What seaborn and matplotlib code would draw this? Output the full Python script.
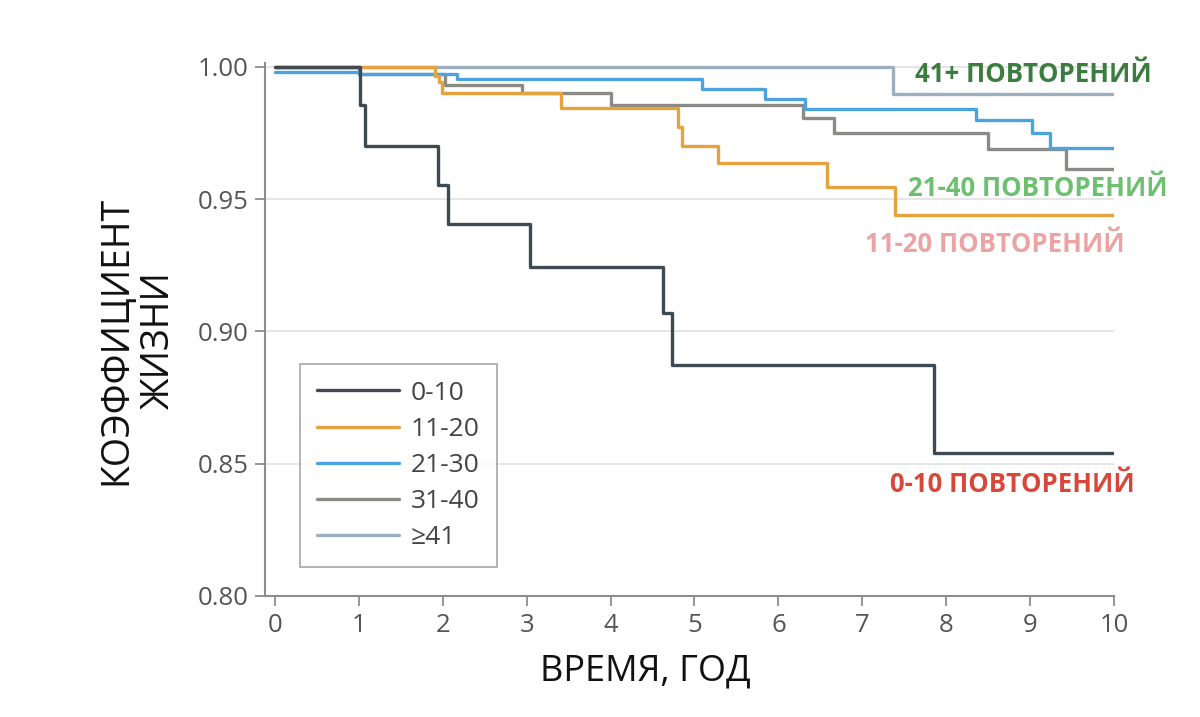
import pandas as pd
import matplotlib
matplotlib.use("Agg")
import matplotlib.pyplot as plt
import seaborn as sns

# Kaplan-Meier style step curves
groups = ["0-10", "11-20", "21-30", "31-40", "≥41"]

t_0_10 = [0, 1.01, 1.07, 1.94, 2.06, 3.04, 4.62, 4.73, 7.85, 10]
s_0_10 = [1.0, 0.9856, 0.970, 0.9554, 0.9406, 0.9245, 0.907, 0.8873, 0.854, 0.854]

t_11_20 = [0, 1.91, 1.96, 1.99, 3.41, 4.80, 4.85, 5.28, 6.58, 7.39, 10]
s_11_20 = [1.0, 0.9967, 0.9944, 0.990, 0.9844, 0.9774, 0.970, 0.9637, 0.9547, 0.944, 0.944]

t_21_30 = [0, 1.0, 2.17, 5.09, 5.84, 6.32, 8.36, 9.02, 9.24, 10]
s_21_30 = [0.998, 0.9972, 0.9955, 0.9916, 0.988, 0.984, 0.980, 0.9752, 0.9695, 0.9695]

t_31_40 = [0, 1.0, 2.03, 2.94, 4.01, 6.29, 6.66, 8.50, 9.43, 10]
s_31_40 = [1.0, 0.9972, 0.9933, 0.990, 0.9856, 0.9806, 0.9752, 0.969, 0.9614, 0.9614]

t_41 = [0, 7.37, 10]
s_41 = [1.0, 0.9897, 0.9897]

colors = ["#3e4a52", "#e6a23c", "#4da3dd", "#8c8a85", "#9dafbf"]

# annotation labels on the right
ann_text = ["41+ ПОВТОРЕНИЙ", "21-40 ПОВТОРЕНИЙ", "11-20 ПОВТОРЕНИЙ", "0-10 ПОВТОРЕНИЙ"]
ann_x = [10.45, 10.64, 10.13, 10.25]
ann_y = [0.997, 0.9539, 0.9327, 0.8423]
ann_color = ["#3b7d3e", "#6cc070", "#eba3a3", "#d9473b"]

times = [t_0_10, t_11_20, t_21_30, t_31_40, t_41]
survs = [s_0_10, s_11_20, s_21_30, s_31_40, s_41]
df = pd.concat(
    [pd.DataFrame({"t": t, "s": s, "group": g}) for g, t, s in zip(groups, times, survs)],
    ignore_index=True,
)

sns.set_theme(style="white")
plt.rcParams["font.family"] = ["Open Sans", "DejaVu Sans"]

fig = plt.figure(figsize=(12, 7.17), dpi=100)
ax = fig.add_axes([0.2208, 0.1688, 0.7075, 0.7434])

sns.lineplot(data=df, x="t", y="s", hue="group", hue_order=groups,
             palette=colors, estimator=None, drawstyle="steps-post",
             lw=2.4, ax=ax)

# first group on top
for i, ln in enumerate(ax.lines[:len(groups)]):
    ln.set_zorder(10 - i)

ax.set_xlim(-0.12, 10.0)
ax.set_ylim(0.80, 1.0015)
ax.set_xticks(range(0, 11))
ax.set_yticks([0.80, 0.85, 0.90, 0.95, 1.00])
ax.set_yticklabels([f"{v:.2f}" for v in [0.80, 0.85, 0.90, 0.95, 1.00]])
ax.yaxis.grid(True, color="#e2e2e2", lw=1.2)
ax.xaxis.grid(False)

for side in ["top", "right"]:
    ax.spines[side].set_visible(False)
for side in ["left", "bottom"]:
    ax.spines[side].set_color("#8c8c8c")
    ax.spines[side].set_linewidth(1.5)

ax.tick_params(axis="both", which="major", direction="out", length=7, width=1.3,
               color="#8c8c8c", labelsize=18.5, labelcolor="#555555", pad=5)
ax.tick_params(axis="y", left=True)
ax.tick_params(axis="x", bottom=True)

ax.set_xlabel("ВРЕМЯ, ГОД", fontsize=26, color="#111111")
ax.xaxis.set_label_coords(0.448, -0.108)
ax.set_ylabel("КОЭФФИЦИЕНТ\nЖИЗНИ", fontsize=27, color="#111111",
              va="center", multialignment="center", linespacing=1.15)
ax.yaxis.set_label_coords(-0.15, 0.48)

handles, labels = ax.get_legend_handles_labels()
leg = ax.legend(handles, labels, loc="lower left", bbox_to_anchor=(0.041, 0.054),
                fontsize=19, frameon=True, fancybox=False, edgecolor="#999999",
                handlelength=3.1, handletextpad=0.45, labelspacing=0.42,
                borderpad=0.65, borderaxespad=0)
leg.get_frame().set_linewidth(1.3)
for txt in leg.get_texts():
    txt.set_color("#444444")

for txt, x, y, c in zip(ann_text, ann_x, ann_y, ann_color):
    ax.text(x, y, txt, ha="right", va="center", color=c, fontsize=18.5,
            fontweight="bold", clip_on=False)

fig.savefig("out.png", dpi=100)
